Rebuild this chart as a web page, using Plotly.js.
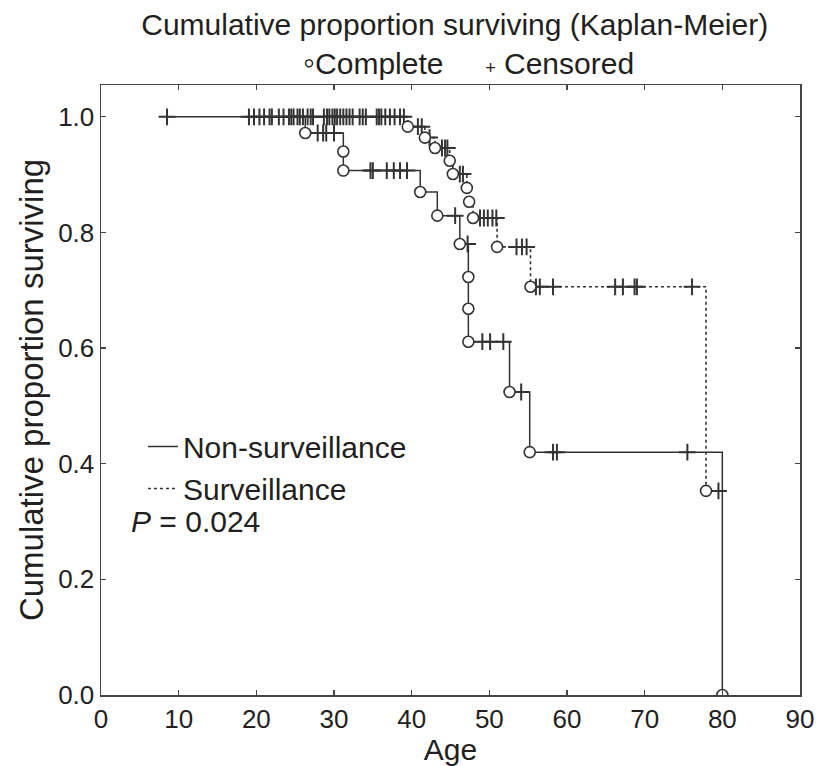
<!DOCTYPE html>
<html>
<head>
<meta charset="utf-8">
<script src="https://cdn.plot.ly/plotly-3.0.1.min.js"></script>
<style>html,body{margin:0;padding:0;background:#fff;}#chart{width:826px;height:766px;}</style>
</head>
<body>
<div id="chart"></div>
<script>
// Non-surveillance group (solid line)
const nsEventAge  = [26.3, 31.2, 31.2, 41.1, 43.3, 46.2, 47.3, 47.3, 47.3, 52.6, 55.2, 80.0];
const nsEventSurv = [0.972, 0.940, 0.907, 0.870, 0.829, 0.780, 0.723, 0.668, 0.611, 0.524, 0.420, 0.000];
const nsCensAge   = [8.5, 19.7, 21.0, 22.9, 24.5, 25.6, 27.9, 28.6, 29.0, 30.0, 34.7, 35.0, 36.8, 37.7, 38.5, 39.4,
                     45.6, 47.2, 49.1, 50.1, 51.8, 54.1, 58.2, 58.7, 75.5];
// Surveillance group (dotted line)
const svEventAge  = [39.5, 41.7, 43.0, 44.9, 45.3, 47.1, 47.4, 47.9, 51.0, 55.3, 77.9];
const svEventSurv = [0.983, 0.964, 0.946, 0.924, 0.901, 0.877, 0.853, 0.825, 0.775, 0.706, 0.353];
const svCensAge   = [19.05, 20.4, 21.7, 22.0, 23.5, 24.2, 24.8, 25.3, 26.0, 26.6, 27.0, 27.3, 28.7, 29.1, 29.4, 29.8,
                     30.1, 30.4, 30.8, 31.2, 31.6, 32.0, 32.4, 33.3, 33.7, 34.1, 35.5, 35.8, 36.1, 36.6, 37.2, 37.8,
                     38.5, 39.0, 40.8, 41.3, 42.3, 43.9, 44.3, 44.6, 46.2, 46.6, 48.8, 49.3, 49.8, 50.4, 50.9,
                     53.5, 54.2, 54.8, 56.0, 56.5, 58.2, 66.2, 67.2, 68.7, 69.0, 76.1, 79.5];

const groupNames = ['Non-surveillance', 'Surveillance'];
const xTicks = [0, 10, 20, 30, 40, 50, 60, 70, 80, 90];
const yTicks = [0, 0.2, 0.4, 0.6, 0.8, 1.0];

function survAt(evA, evS, t) {
  let s = 1;
  for (let i = 0; i < evA.length; i++) if (evA[i] <= t) s = evS[i];
  return s;
}
function stepPath(evA, evS, cA) {
  const start = Math.min(cA[0], evA[0]);
  const x = [start].concat(evA), y = [1].concat(evS);
  const lastC = cA[cA.length - 1];
  if (lastC > evA[evA.length - 1]) { x.push(lastC); y.push(survAt(evA, evS, lastC)); }
  return {x, y};
}

const ink = '#231f20';
const lineCol = '#333333';
const FONT = 'Liberation Sans, Arial, sans-serif';

const nsPath = stepPath(nsEventAge, nsEventSurv, nsCensAge);
const svPath = stepPath(svEventAge, svEventSurv, svCensAge);

const crossMarker = {symbol: 'cross-thin-open', size: 12, color: lineCol, line: {color: lineCol, width: 2}};
const circleMarker = {symbol: 'circle', size: 11, color: '#ffffff', line: {color: lineCol, width: 1.6}};

const traces = [
  {x: nsPath.x, y: nsPath.y, mode: 'lines', line: {shape: 'hv', color: lineCol, width: 1.5}, name: groupNames[0], hoverinfo: 'skip'},
  {x: svPath.x, y: svPath.y, mode: 'lines', line: {shape: 'hv', color: lineCol, width: 1.6, dash: 'dot'}, name: groupNames[1], hoverinfo: 'skip'},
  {x: nsCensAge, y: nsCensAge.map(t => survAt(nsEventAge, nsEventSurv, t)), mode: 'markers', showlegend: false, marker: crossMarker},
  {x: svCensAge, y: svCensAge.map(t => survAt(svEventAge, svEventSurv, t)), mode: 'markers', showlegend: false, marker: crossMarker},
  {x: nsEventAge, y: nsEventSurv, mode: 'markers', showlegend: false, marker: circleMarker},
  {x: svEventAge, y: svEventSurv, mode: 'markers', showlegend: false, marker: circleMarker}
];

const axisCommon = {
  showline: true, linecolor: '#444', linewidth: 1.5, mirror: 'ticks',
  ticks: 'inside', ticklen: 5, tickwidth: 1.2, tickcolor: '#444',
  showgrid: false, zeroline: false,
  tickfont: {family: FONT, size: 26, color: ink}
};

const layout = {
  width: 826, height: 766,
  margin: {l: 101, r: 26, t: 85, b: 71},
  paper_bgcolor: '#fff', plot_bgcolor: '#fff',
  font: {family: FONT, color: ink},
  title: {text: 'Cumulative proportion surviving (Kaplan-Meier)', font: {family: FONT, size: 30, color: ink},
          x: 0.506, xref: 'paper', xanchor: 'center', y: 0.968, yref: 'container', yanchor: 'middle'},
  xaxis: Object.assign({}, axisCommon, {range: [0, 90], tickvals: xTicks, ticktext: xTicks.map(String),
          title: {text: 'Age', font: {family: FONT, size: 30, color: ink}, standoff: 2}}),
  yaxis: Object.assign({}, axisCommon, {range: [0, 1.055], tickvals: yTicks, ticktext: yTicks.map(v => v.toFixed(1)),
          title: {text: '\u00A0\u00A0\u00A0Cumulative proportion surviving', font: {family: FONT, size: 33, color: ink}, standoff: 4}}),
  showlegend: true,
  legend: {x: 0.06, xanchor: 'left', y: 0.45, yanchor: 'top', bgcolor: 'rgba(0,0,0,0)',
           font: {family: FONT, size: 30, color: ink}, itemwidth: 30, tracegroupgap: 0},
  annotations: [
    {xref: 'paper', yref: 'paper', x: 0.526, y: 1.0377, xanchor: 'center', yanchor: 'middle', showarrow: false,
     text: '<span style="font-size:34px">\u25E6</span>Complete\u00A0\u00A0\u00A0\u00A0\u00A0<span style="font-size:18px">+</span>\u00A0Censored',
     font: {family: FONT, size: 30, color: ink}},
    {xref: 'paper', yref: 'paper', x: 0.04, y: 0.285, xanchor: 'left', yanchor: 'middle', showarrow: false,
     text: '<i>P</i> = 0.024', font: {family: FONT, size: 30, color: ink}}
  ]
};

Plotly.newPlot('chart', traces, layout, {staticPlot: true, displayModeBar: false});
</script>
</body>
</html>
